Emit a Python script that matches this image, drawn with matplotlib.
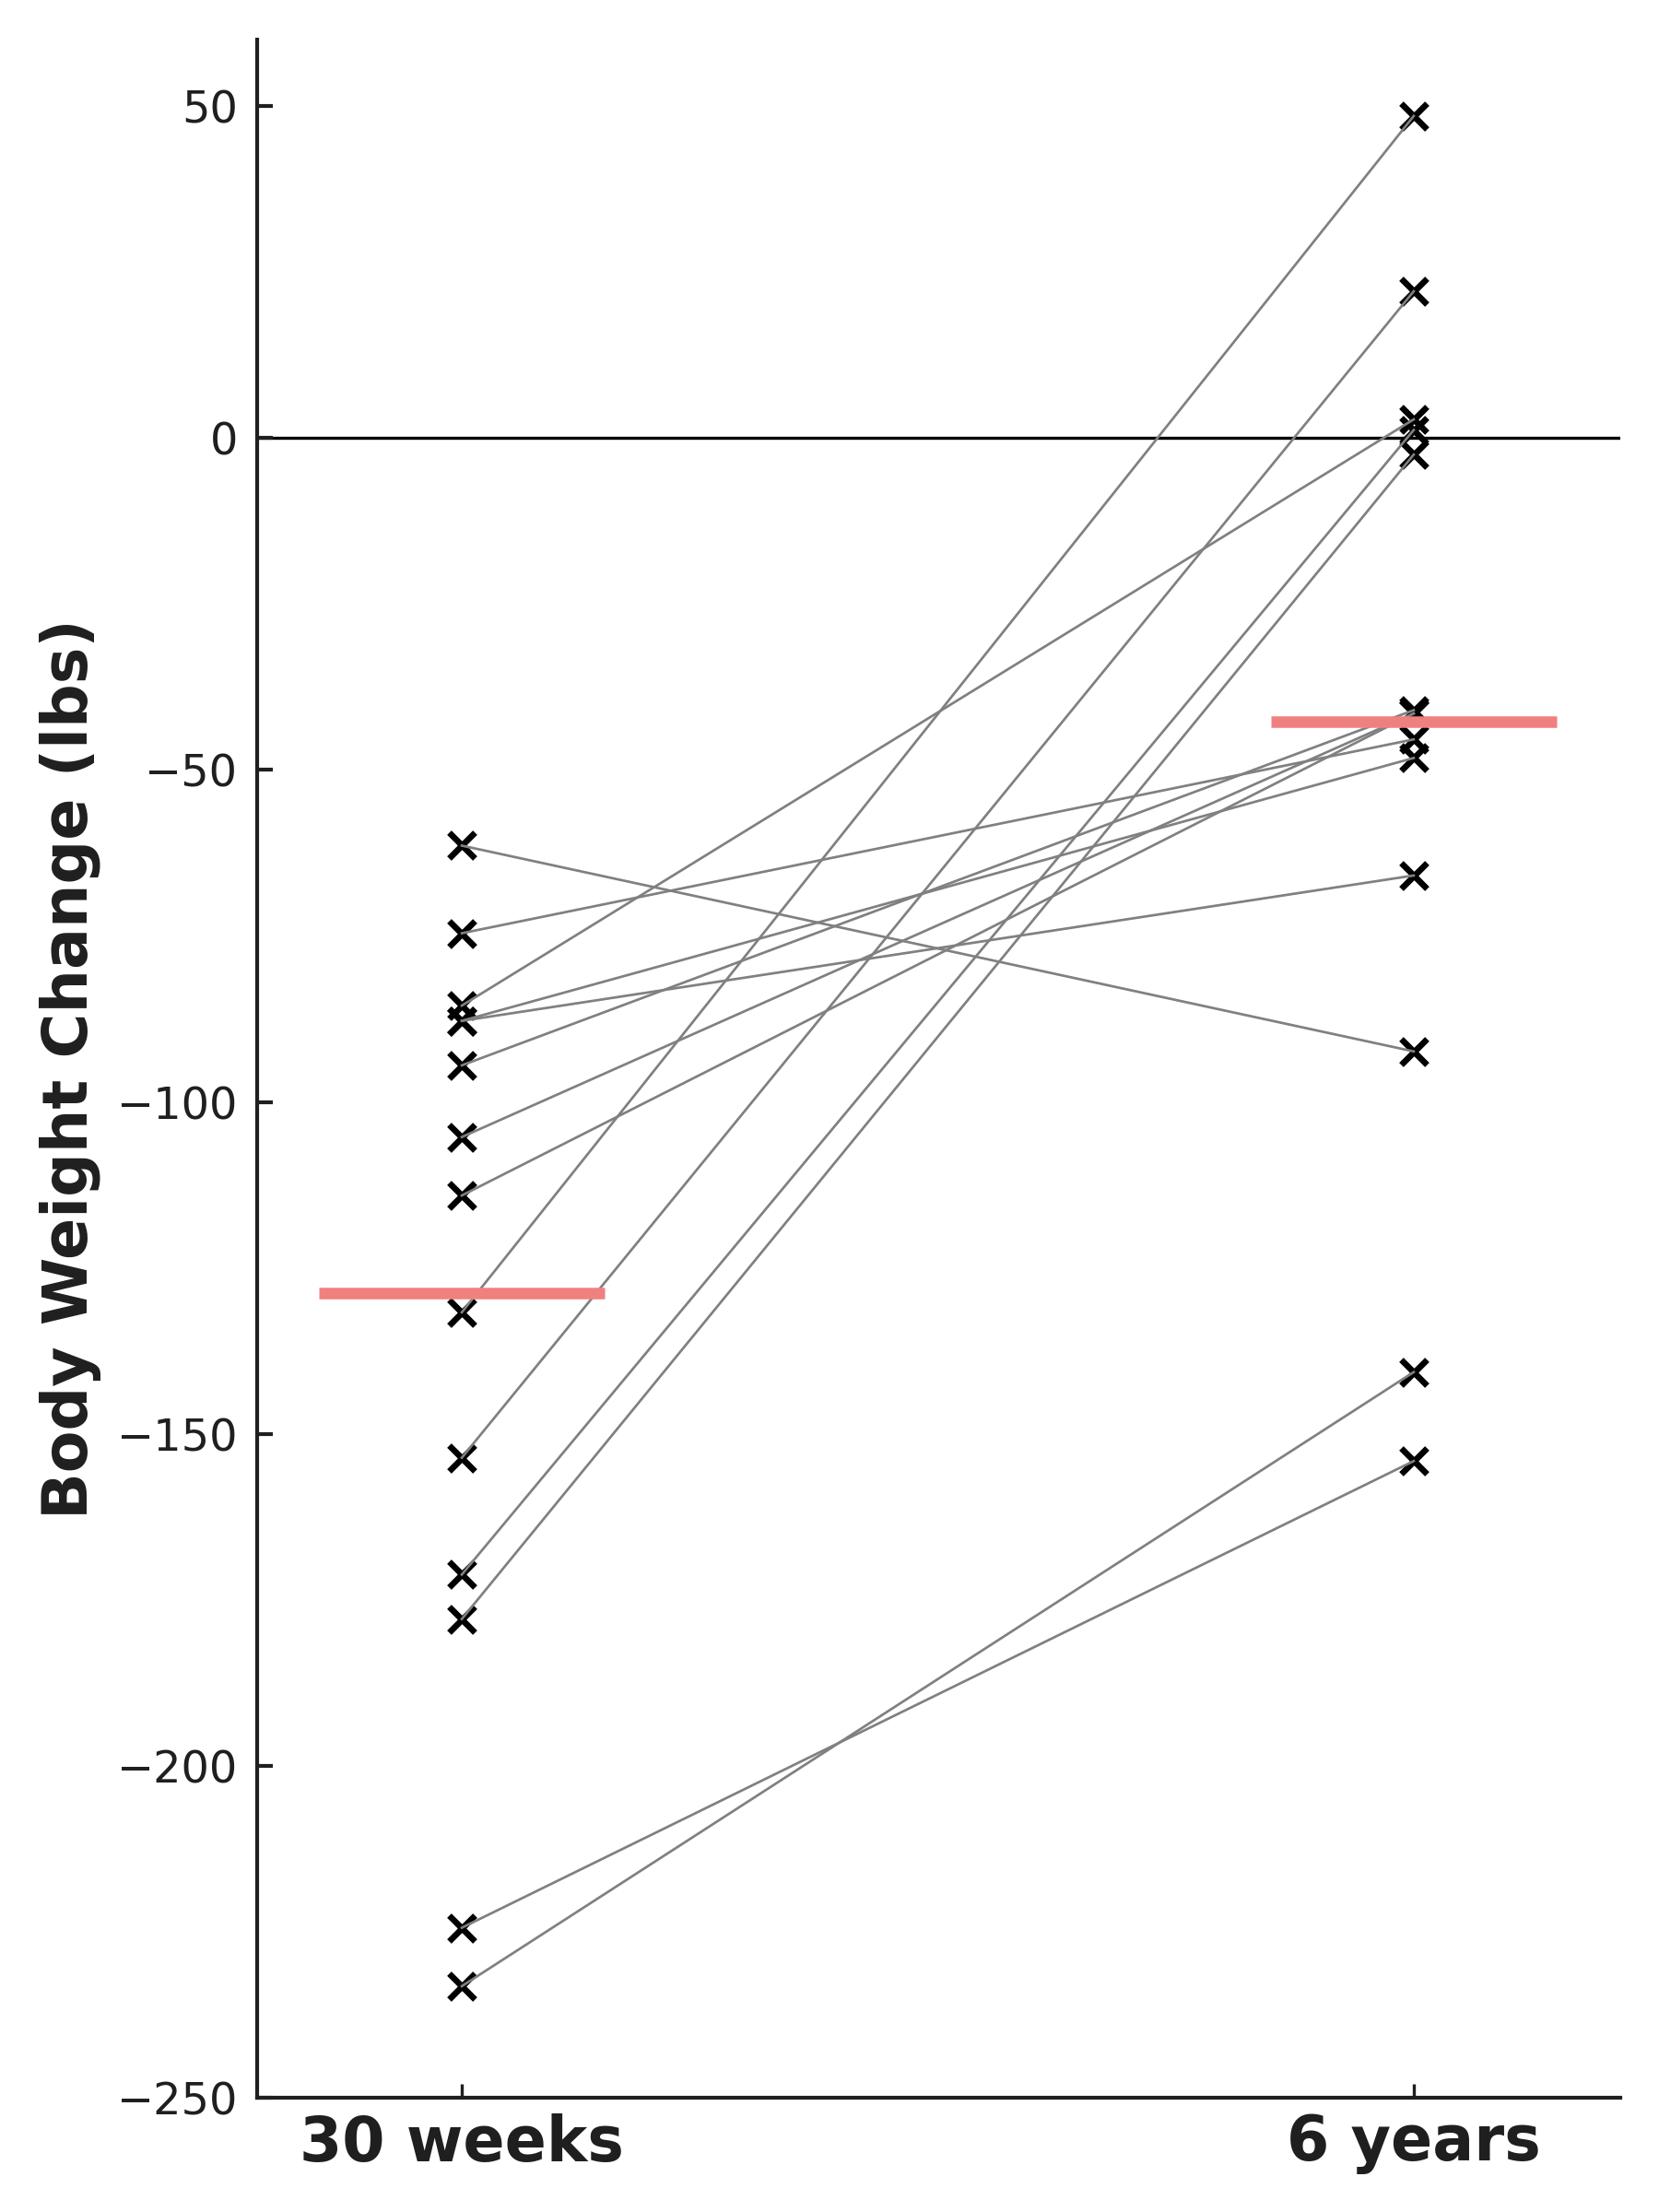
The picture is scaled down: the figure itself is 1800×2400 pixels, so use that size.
import matplotlib
matplotlib.use("Agg")
import matplotlib.pyplot as plt
import numpy as np

# ---- data ----
timepoints = ["30 weeks", "6 years"]
change_30_weeks = [-61.4, -74.6, -85.5, -87.8, -87.8, -94.5, -105.3, -114.1,
                   -131.7, -153.6, -171.2, -177.9, -224.4, -233.2]
change_6_years = [-92.4, -45.4, 2.8, -65.9, -48.2, -41.0, -41.5, -41.5,
                  48.5, 22.1, 1.2, -2.5, -154.1, -140.7]
y_ticks = [50, 0, -50, -100, -150, -200, -250]

plt.rcParams['font.family'] = ['DejaVu Sans']
text_color = '0.12'

fig = plt.figure(figsize=(6, 8), dpi=300)
ax = fig.add_axes([279/1800, 124/2400, (1758-279)/1800, (2276-43)/2400])

xpos = np.arange(len(timepoints))

# subject markers
for a, b in zip(change_30_weeks, change_6_years):
    ax.plot(xpos, [a, b], linestyle='none', marker='x', color='black',
            markersize=6.5, markeredgewidth=1.6, zorder=2)
# subject lines
for a, b in zip(change_30_weeks, change_6_years):
    ax.plot(xpos, [a, b], color='gray', linewidth=0.65, zorder=3)

# zero line
ax.axhline(0, color='black', linewidth=0.8, zorder=1)

# mean lines
means = [np.mean(change_30_weeks), np.mean(change_6_years)]
for xp, m in zip(xpos, means):
    ax.hlines(m, xp - 0.15, xp + 0.15, color='lightcoral', linewidth=3, zorder=4)

ax.set_xlim(-0.215, 1.217)
ax.set_ylim(-250, 60)
ax.set_xticks(xpos)
ax.set_xticklabels(timepoints, fontsize=16, fontweight='bold', color=text_color)
ax.set_yticks(y_ticks)
ax.tick_params(axis='y', labelsize=11.5, labelcolor=text_color, direction='in',
               length=4, width=1, color=text_color, pad=5)
ax.tick_params(axis='x', direction='in', length=3.5, width=0.8, color=text_color, pad=4)
ax.set_ylabel("Body Weight Change (lbs)", fontsize=16, fontweight='bold',
              color=text_color, labelpad=4)

for s in ['top', 'right']:
    ax.spines[s].set_visible(False)
for s in ['left', 'bottom']:
    ax.spines[s].set_linewidth(1.0)
    ax.spines[s].set_color(text_color)

fig.savefig("out.png", dpi=300)
